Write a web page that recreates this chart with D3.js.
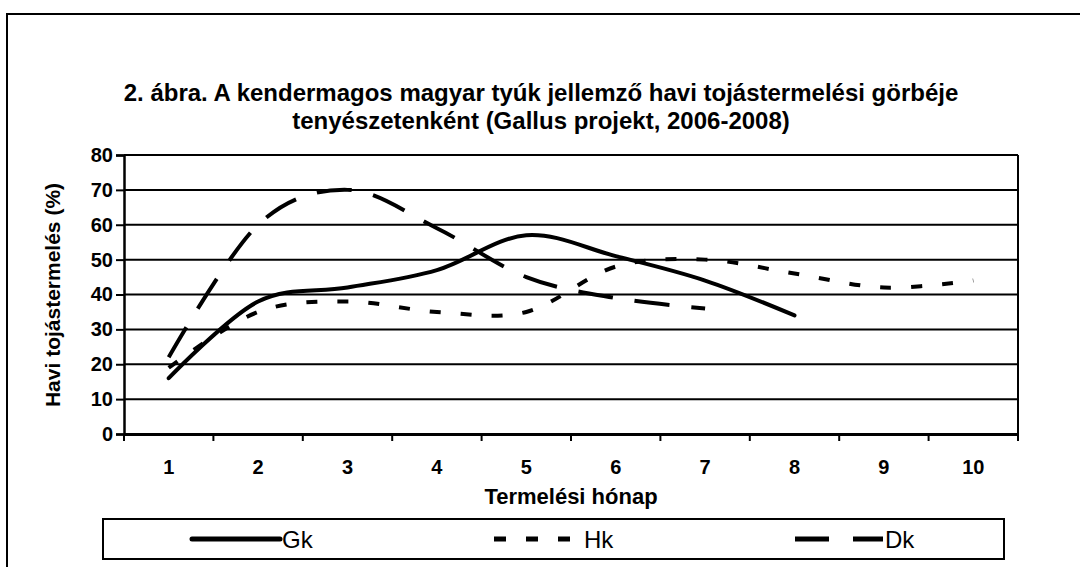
<html>
	<script src='https://d3js.org/d3.v7.min.js'></script>
	<style>
		body { margin: 0; background: white; }
		text { font-family: Arial, "Liberation Sans", sans-serif; fill: black; }
	</style>
	<body onload='init()'>
		<svg width=1080 height=567></svg>
		<script>
			// chart data

			var months = [1, 2, 3, 4, 5, 6, 7, 8, 9, 10];
			var yTicks = [0, 10, 20, 30, 40, 50, 60, 70, 80];
			var gk = [16, 38, 42, 47, 57, 51, 44, 34];
			var hk = [19, 35, 38, 35, 35, 48, 50, 46, 42, 44];
			var dk = [22, 60, 70, 59, 45, 39, 36];
			var seriesNames = ["Gk", "Hk", "Dk"];
			var titleLines = ["2. ábra. A kendermagos magyar tyúk jellemző havi tojástermelési görbéje",
				"tenyészetenként (Gallus projekt, 2006-2008)"];

			function init() {

				var svg = d3.select("svg");

				// plot area

				var left = 124, right = 1018, top = 155, bottom = 434;

				var scaleX = d3.scaleBand().domain(months).range([left, right]);
				var scaleY = d3.scaleLinear().domain([0, 80]).range([bottom, top]);

				// outer frame

				svg.append("rect").attr("x", 7).attr("y", 14).attr("width", 1100).attr("height", 600)
				.attr("fill", "none").attr("stroke", "black").attr("stroke-width", 2);

				// title

				svg.append("g").selectAll("text").data(titleLines).enter().append("text")
				.attr("x", 541).attr("y", function(d, i) { return 101 + i * 28; })
				.attr("text-anchor", "middle").attr("font-weight", "bold").attr("font-size", 24)
				.text(function(d) { return d; });

				// gridlines + right border

				svg.append("g").selectAll("line").data(yTicks.slice(1)).enter().append("line")
				.attr("x1", left).attr("x2", right)
				.attr("y1", function(d) { return scaleY(d); }).attr("y2", function(d) { return scaleY(d); })
				.attr("stroke", "black").attr("stroke-width", 2);

				svg.append("line").attr("x1", right).attr("x2", right).attr("y1", top).attr("y2", bottom)
				.attr("stroke", "black").attr("stroke-width", 2);

				// y-axis

				var yAxis = svg.append("g").attr("transform", "translate(" + left + ",0)")
				.call(d3.axisLeft(scaleY).tickValues(yTicks).tickSize(8).tickPadding(3));
				yAxis.select(".domain").attr("stroke-width", 2.5);
				yAxis.selectAll(".tick line").attr("stroke-width", 2);
				yAxis.selectAll("text").attr("font-size", 20).attr("font-weight", "bold")
				.attr("font-family", "Arial, 'Liberation Sans', sans-serif");

				// x-axis: ticks sit between the months

				var xAxis = svg.append("g").attr("transform", "translate(0," + bottom + ")")
				.call(d3.axisBottom(scaleX).tickSize(0).tickPadding(26));
				xAxis.select(".domain").attr("stroke-width", 3);
				xAxis.selectAll("text").attr("font-size", 20).attr("font-weight", "bold")
				.attr("font-family", "Arial, 'Liberation Sans', sans-serif");

				var edges = months.map(function(m) { return scaleX(m); }).concat([right]);
				xAxis.selectAll(".edge").data(edges).enter().append("line").attr("class", "edge")
				.attr("x1", function(d) { return d; }).attr("x2", function(d) { return d; })
				.attr("y1", 0).attr("y2", 7).attr("stroke", "black").attr("stroke-width", 2);

				// axis titles

				svg.append("text").attr("transform", "translate(60,295) rotate(-90)")
				.attr("text-anchor", "middle").attr("font-weight", "bold").attr("font-size", 21)
				.text("Havi tojástermelés (%)");

				svg.append("text").attr("x", 571).attr("y", 504)
				.attr("text-anchor", "middle").attr("font-weight", "bold").attr("font-size", 22)
				.text("Termelési hónap");

				// lines

				var styles = [
					{ data: gk, dash: null, cap: "round" },
					{ data: hk, dash: "11 20", cap: "butt" },
					{ data: dk, dash: "35 22", cap: "butt" }
				];

				var line = d3.line()
				.x(function(d, i) { return scaleX(months[i]) + scaleX.bandwidth() / 2; })
				.y(function(d) { return scaleY(d); })
				.curve(d3.curveCardinal.tension(0));

				svg.append("g").selectAll("path").data(styles).enter().append("path")
				.attr("d", function(d) { return line(d.data); })
				.attr("fill", "none").attr("stroke", "black").attr("stroke-width", 4)
				.attr("stroke-dasharray", function(d) { return d.dash; })
				.attr("stroke-linecap", function(d) { return d.cap; });

				// legend

				svg.append("rect").attr("x", 103).attr("y", 519).attr("width", 901).attr("height", 40)
				.attr("fill", "white").attr("stroke", "black").attr("stroke-width", 2);

				var legendX = [192, 494, 795];
				var legendDash = [null, "12 20", "34 24"];

				var items = svg.append("g").selectAll("g").data(seriesNames).enter().append("g")
				.attr("transform", function(d, i) { return "translate(" + legendX[i] + ",539)"; });

				items.append("line").attr("x1", 0).attr("x2", 88).attr("y1", 0).attr("y2", 0)
				.attr("stroke", "black").attr("stroke-width", 5)
				.attr("stroke-dasharray", function(d, i) { return legendDash[i]; })
				.attr("stroke-linecap", function(d, i) { return i == 0 ? "round" : "butt"; });

				items.append("text").attr("x", 90).attr("y", 9).attr("font-size", 24)
				.text(function(d) { return d; });
			}
		</script>
	</body>
</html>
